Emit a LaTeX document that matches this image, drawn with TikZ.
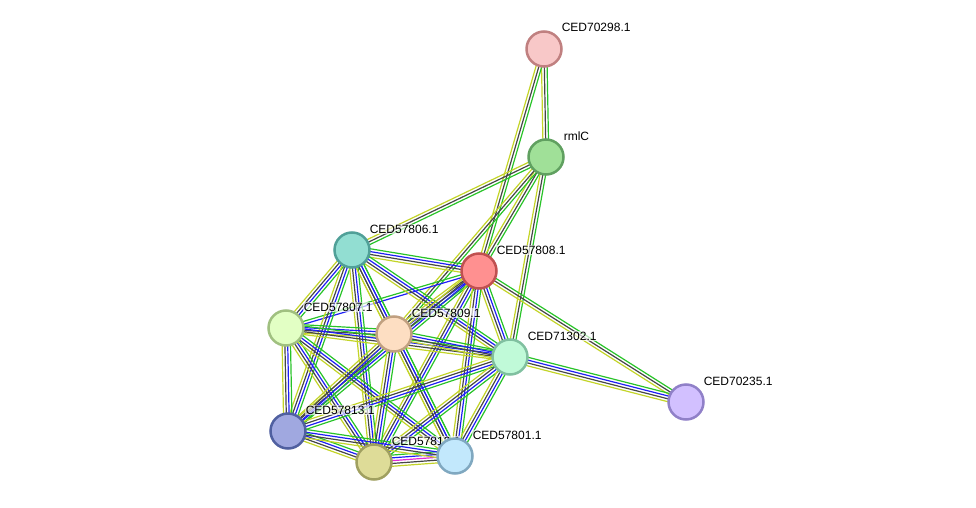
\documentclass[tikz,border=0pt]{standalone}
\usepackage{fontspec}
\setmainfont{Liberation Sans}
\usetikzlibrary{calc,backgrounds}

\definecolor{lnkgrn}{RGB}{40,195,40}
\definecolor{lnkblu}{RGB}{30,30,245}
\definecolor{lnkblk}{RGB}{70,70,70}
\definecolor{lnkyel}{RGB}{195,212,40}
\definecolor{lnkmag}{RGB}{225,40,215}

% one bundle of parallel evidence lines between two proteins
\newcommand{\bundle}[3]{%
  \foreach \col/\off in #3 {
    \draw[\col, line width=1.2pt] ($(#1)!\off pt!90:(#2)$) -- ($(#2)!\off pt!-90:(#1)$);
  }}
\def\fourway{lnkyel/-4.2,lnkblk/-1.4,lnkblu/1.4,lnkgrn/4.2}
\def\threeway{lnkyel/-2.8,lnkblk/0,lnkgrn/2.8}

\begin{document}
\begin{tikzpicture}[x=1pt, y=-1pt,
    prot/.style={circle, draw, line width=2.5pt, minimum size=35pt, inner sep=0pt},
    lbl/.style={anchor=base west, font=\fontsize{12}{14}\selectfont, inner sep=0.6pt,
      fill=white, fill opacity=0.65, text opacity=1},
  ]
  \useasboundingbox (0,0) rectangle (976,508);

  % proteins and their names
  \node[prot, fill={rgb,255:red,248;green,200;blue,200}, draw={rgb,255:red,192;green,128;blue,128}] (p70298) at (544,49) {};
  \node[lbl] (t70298) at ($(p70298)+(17,-17)$) {CED70298.1};
  \node[prot, fill={rgb,255:red,160;green,224;blue,152}, draw={rgb,255:red,96;green,160;blue,96}] (prmlc) at (546,157) {};
  \node[lbl] (trmlc) at ($(prmlc)+(17,-17)$) {rmlC};
  \node[prot, fill={rgb,255:red,146;green,222;blue,210}, draw={rgb,255:red,80;green,160;blue,152}] (p57806) at (352,250) {};
  \node[lbl] (t57806) at ($(p57806)+(17,-17)$) {CED57806.1};
  \node[prot, fill={rgb,255:red,255;green,144;blue,144}, draw={rgb,255:red,192;green,80;blue,80}] (p57808) at (479,271) {};
  \node[lbl] (t57808) at ($(p57808)+(17,-17)$) {CED57808.1};
  \node[prot, fill={rgb,255:red,226;green,255;blue,196}, draw={rgb,255:red,160;green,192;blue,128}] (p57807) at (286,328) {};
  \node[lbl] (t57807) at ($(p57807)+(17,-17)$) {CED57807.1};
  \node[prot, fill={rgb,255:red,253;green,222;blue,194}, draw={rgb,255:red,192;green,160;blue,128}] (p57809) at (394,334) {};
  \node[lbl] (t57809) at ($(p57809)+(17,-17)$) {CED57809.1};
  \node[prot, fill={rgb,255:red,192;green,250;blue,216}, draw={rgb,255:red,128;green,192;blue,160}] (p71302) at (510,357) {};
  \node[lbl] (t71302) at ($(p71302)+(17,-17)$) {CED71302.1};
  \node[prot, fill={rgb,255:red,210;green,192;blue,255}, draw={rgb,255:red,144;green,128;blue,200}] (p70235) at (686,402) {};
  \node[lbl] (t70235) at ($(p70235)+(17,-17)$) {CED70235.1};
  \node[prot, fill={rgb,255:red,160;green,168;blue,224}, draw={rgb,255:red,80;green,96;blue,160}] (p57813) at (288,431) {};
  \node[lbl] (t57813) at ($(p57813)+(17,-17)$) {CED57813.1};
  \node[prot, fill={rgb,255:red,222;green,220;blue,152}, draw={rgb,255:red,160;green,160;blue,96}] (p57812) at (374,462) {};
  \node[lbl] (t57812) at ($(p57812)+(17,-17)$) {CED57812.1};
  \node[prot, fill={rgb,255:red,194;green,232;blue,252}, draw={rgb,255:red,128;green,168;blue,192}] (p57801) at (455,456) {};
  \node[lbl] (t57801) at ($(p57801)+(17,-17)$) {CED57801.1};

  % evidence lines
  \begin{pgfonlayer}{background}
    \bundle{p70298}{prmlc}{\threeway}
    \bundle{p70298}{p57808}{\threeway}
    \bundle{prmlc}{p57806}{\threeway}
    \bundle{prmlc}{p57808}{\threeway}
    \bundle{prmlc}{p57809}{\threeway}
    \bundle{prmlc}{p71302}{\threeway}
    \bundle{p57808}{p70235}{\threeway}
    \bundle{p71302}{p70235}{\fourway}
    \bundle{p57807}{p57808}{{lnkblu/-1.4,lnkgrn/1.4}}
    \bundle{p57812}{p57801}{{lnkyel/-5.6,lnkblk/-2.8,lnkmag/0,lnkblu/2.8,lnkgrn/5.6}}
    \foreach \a/\b in {p57806/p57808, p57806/p57807, p57806/p57809, p57806/p71302,
        p57806/p57813, p57806/p57812, p57806/p57801,
        p57808/p57809, p57808/p71302, p57808/p57813, p57808/p57812, p57808/p57801,
        p57807/p57809, p57807/p71302, p57807/p57813, p57807/p57812, p57807/p57801,
        p57809/p71302, p57809/p57813, p57809/p57812, p57809/p57801,
        p71302/p57813, p71302/p57812, p71302/p57801,
        p57813/p57812, p57813/p57801} {
      \bundle{\a}{\b}{\fourway}
    }
  \end{pgfonlayer}
\end{tikzpicture}
\end{document}
